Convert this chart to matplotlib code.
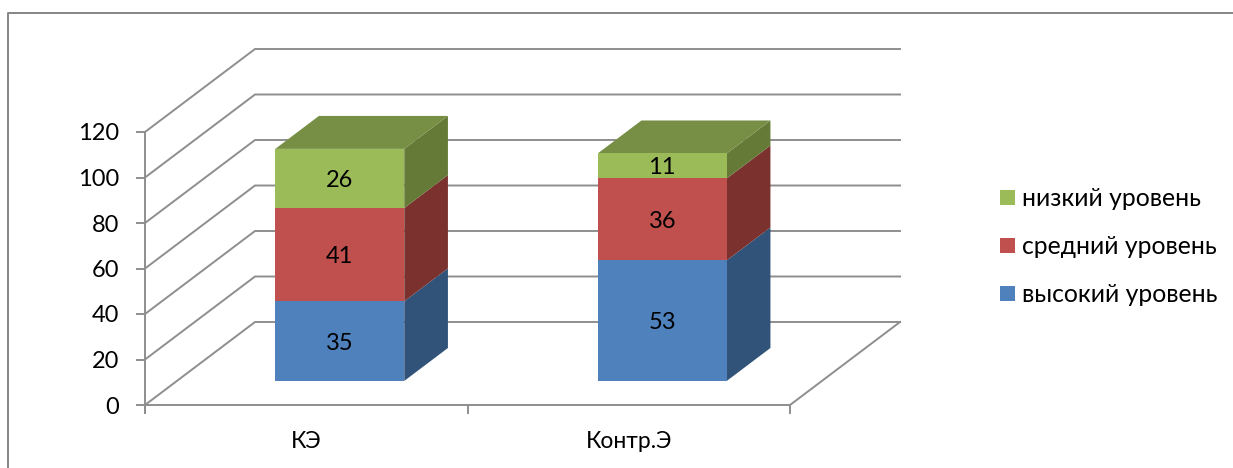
import matplotlib.pyplot as plt
from matplotlib.patches import Polygon, Rectangle

categories = ["КЭ", "Контр.Э"]
series_names = ["высокий уровень", "средний уровень", "низкий уровень"]
vysokiy = [35, 53]
sredniy = [41, 36]
nizkiy = [26, 11]
y_ticks = [0, 20, 40, 60, 80, 100, 120]

front_colors = ["#4F81BD", "#C0504D", "#9BBB59"]
side_colors = ["#325379", "#7B322F", "#647A36"]
top_colors = ["#3C6491", "#94403D", "#778F45"]
grid_color = "#8E8E8E"

plt.rcParams['font.family'] = ['Lato', 'Open Sans', 'DejaVu Sans']

W, H = 1233, 468
# scale of the front plane, in pixels per category and per unit
px_cat = 322.5
px_val = 2.275
x0, y0 = 145, 405
# shift from front to back wall
dx = 110 / px_cat
dy = 83 / px_val


def proj(x, v, d=0):
    # oblique projection, d = 0 front plane, d = 1 back wall
    return (x + d * dx, v + d * dy)


fig = plt.figure(figsize=(W / 100, H / 100), dpi=100)
ax = fig.add_axes([0, 0, 1, 1])
ax.set_xlim(-x0 / px_cat, (W - x0) / px_cat)
ax.set_ylim((y0 - H) / px_val, y0 / px_val)
ax.axis("off")

# outer frame, left and top only
fig.add_artist(plt.Line2D([8 / W, 8 / W, 1], [0, 1 - 13 / H, 1 - 13 / H],
                          color="#868686", lw=1.4))

# walls
for v in y_ticks:
    xs, ys = zip(proj(0, v, 0), proj(0, v, 1), proj(2, v, 1))
    ax.plot(xs, ys, color=grid_color, lw=1.4, zorder=1, solid_joinstyle="miter")
    ax.plot([-8 / px_cat, 0], [v, v], color=grid_color, lw=1.4, zorder=1)
    ax.text(-26 / px_cat, v - 2 / px_val, str(v), ha="right", va="center", fontsize=17, color="black")

# floor and axes
xs, ys = zip(proj(0, 0), proj(2, 0), proj(2, 0, 1))
ax.plot(xs, ys, color=grid_color, lw=1.4, zorder=1)
ax.plot([0, 0], [-8 / px_val, y_ticks[-1]], color=grid_color, lw=1.4, zorder=1)
for x in [0, 1, 2]:
    ax.plot([x, x], [-8 / px_val, 0], color=grid_color, lw=1.4, zorder=1)

# bars
bar_w = 129 / px_cat
d1, d2 = 0.29, 0.687
for i, cat in enumerate(categories):
    center = i + 0.505
    left = center - bar_w / 2
    right = center + bar_w / 2
    bottom = 0
    for s, vals in enumerate([vysokiy, sredniy, nizkiy]):
        top = bottom + vals[i]
        front = [proj(left, bottom, d1), proj(right, bottom, d1),
                 proj(right, top, d1), proj(left, top, d1)]
        side = [proj(right, bottom, d1), proj(right, bottom, d2),
                proj(right, top, d2), proj(right, top, d1)]
        ax.add_patch(Polygon(side, closed=True, fc=side_colors[s], ec="none", zorder=3))
        ax.add_patch(Polygon(front, closed=True, fc=front_colors[s], ec="none", zorder=4))
        if s == 2:
            lid = [proj(left, top, d1), proj(right, top, d1),
                   proj(right, top, d2), proj(left, top, d2)]
            ax.add_patch(Polygon(lid, closed=True, fc=top_colors[s], ec="none", zorder=3))
        cx, cy = proj(center, (bottom + top) / 2, d1)
        ax.text(cx, cy - 2 / px_val, str(vals[i]), ha="center", va="center", fontsize=17, color="black", zorder=5)
        bottom = top
    ax.text(i + 0.5, -36 / px_val, cat, ha="center", va="center", fontsize=16.5, color="black")

# legend, drawn by hand so the rows stay evenly spaced
for row, s in enumerate([2, 1, 0]):
    yc = 197 + 48 * row
    fig.add_artist(Rectangle((1000 / W, 1 - (yc + 7.5) / H), 15 / W, 15 / H,
                             fc=front_colors[s], ec="none", transform=fig.transFigure))
    fig.text(1022 / W, 1 - yc / H, series_names[s], ha="left", va="center_baseline",
             fontsize=17.8, color="black")

plt.savefig("out.png", dpi=100)
